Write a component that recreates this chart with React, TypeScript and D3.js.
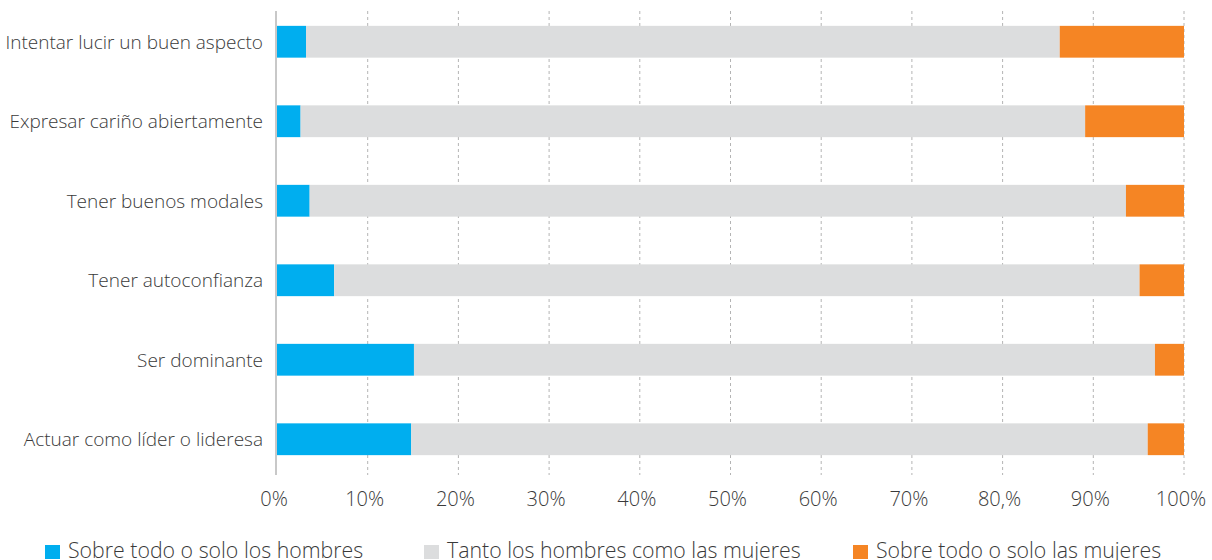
import React from "react";
import * as d3 from "d3";

const categories = [
  "Intentar lucir un buen aspecto",
  "Expresar cariño abiertamente",
  "Tener buenos modales",
  "Tener autoconfianza",
  "Ser dominante",
  "Actuar como líder o lideresa",
];
const hombres = [3.2, 2.6, 3.6, 6.3, 15.1, 14.8];
const ambos = [83.1, 86.5, 90.0, 88.8, 81.7, 81.2];
const mujeres = [13.7, 10.9, 6.4, 4.9, 3.2, 4.0];
const seriesNames = [
  "Sobre todo o solo los hombres",
  "Tanto los hombres como las mujeres",
  "Sobre todo o solo las mujeres",
];
const seriesKeys = ["hombres", "ambos", "mujeres"];
const colors = ["#00AEEF", "#DCDDDE", "#F58524"];
const tickValues = [0, 10, 20, 30, 40, 50, 60, 70, 80, 90, 100];
const tickLabels = ["0%", "10%", "20%", "30%", "40%", "50%", "60%", "70%", "80,%", "90%", "100%"];

const W = 1212;
const H = 560;
const FONT = "'Open Sans', 'DejaVu Sans', sans-serif";
const TEXT = "#3a3a3a";

export default function App() {
  const rows = categories.map((c, i) => ({
    cat: c,
    hombres: hombres[i],
    ambos: ambos[i],
    mujeres: mujeres[i],
  }));
  const stacked = d3.stack<any>().keys(seriesKeys)(rows);

  const x = d3.scaleLinear().domain([0, 100]).range([277, 1184]);
  const y = d3
    .scaleBand<string>()
    .domain(categories)
    .range([2, 479])
    .paddingInner(0.6)
    .paddingOuter(0.3);

  const gridTop = 11;
  const gridBottom = 475;
  const legendX = [45, 424, 853];

  return (
    <svg
      width={W}
      height={H}
      style={{ position: "absolute", left: 0, top: 0, background: "#fff" }}
      fontFamily={FONT}
    >
      {/* grid lines */}
      {tickValues.slice(1).map((t) => (
        <line
          key={t}
          x1={x(t)}
          x2={x(t)}
          y1={gridTop}
          y2={gridBottom}
          stroke="#b4b4b4"
          strokeWidth={1}
          strokeDasharray="3,3"
        />
      ))}
      {/* bars */}
      {stacked.map((s, si) => (
        <g key={s.key} fill={colors[si]}>
          {s.map((d: any, i: number) => (
            <rect
              key={i}
              x={x(d[0])}
              y={y(d.data.cat)}
              width={Math.max(0, x(d[1]) - x(d[0]))}
              height={y.bandwidth()}
            />
          ))}
        </g>
      ))}
      {/* y axis line */}
      <line x1={276} x2={276} y1={gridTop} y2={gridBottom} stroke="#c8c8c8" strokeWidth={2} />
      {/* category labels */}
      {categories.map((c) => (
        <text
          key={c}
          x={263}
          y={(y(c) as number) + y.bandwidth() / 2}
          textAnchor="end"
          dominantBaseline="central"
          fontSize={19}
          fontWeight={300}
          fill={TEXT}
        >
          {c}
        </text>
      ))}
      {/* tick labels */}
      {tickValues.map((t, i) => (
        <text
          key={t}
          x={x(t) - 3}
          y={506}
          textAnchor="middle"
          fontSize={20}
          fontWeight={300}
          fill={TEXT}
        >
          {tickLabels[i]}
        </text>
      ))}
      {/* legend */}
      {seriesNames.map((n, i) => (
        <g key={n}>
          <rect x={legendX[i]} y={545} width={15} height={14} fill={colors[i]} />
          <text
            x={legendX[i] + 23}
            y={557.5}
            fontSize={21.3}
            fontWeight={300}
            fill={TEXT}
          >
            {n}
          </text>
        </g>
      ))}
    </svg>
  );
}
